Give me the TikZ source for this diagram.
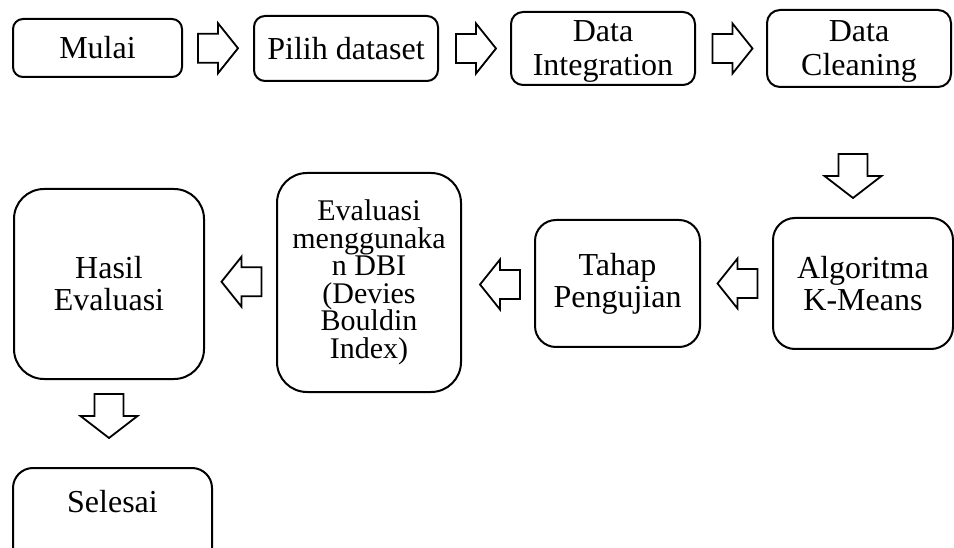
\documentclass[tikz,border=0pt]{standalone}
\usepackage{fontspec}
\setmainfont{Liberation Serif}
\usetikzlibrary{calc}
\begin{document}
\begin{tikzpicture}[x=1pt,y=-1pt,
  box/.style={draw, line width=2pt, rectangle, inner sep=0pt, align=center,
    font=\fontsize{32}{32}\selectfont},
  txt/.style={inner sep=0pt, align=center, font=\fontsize{32}{34}\selectfont},
  blk/.style={draw, line width=1.8pt, fill=white, line join=miter},
  pics/rarr/.style={code={\draw[blk] (-20,-14.5) -- (0,-14.5) -- (0,-25) -- (20,0) -- (0,25) -- (0,14.5) -- (-20,14.5) -- cycle;}},
  pics/larr/.style={code={\draw[blk] (20,-14.5) -- (0,-14.5) -- (0,-25) -- (-20,0) -- (0,25) -- (0,14.5) -- (20,14.5) -- cycle;}},
  pics/darr/.style={code={\draw[blk] (-14.5,-22) -- (14.5,-22) -- (14.5,0) -- (28.5,0) -- (0,22) -- (-28.5,0) -- (-14.5,0) -- cycle;}}
]
\useasboundingbox (0,0) rectangle (954,548);
\clip (0,0) rectangle (954,548);

\node[box, minimum width=169pt, minimum height=58pt, rounded corners=10pt] (mulai) at (97.5,48) {Mulai};
\node[box, minimum width=184pt, minimum height=65pt, rounded corners=11pt] (pilih) at (346,48.5) {Pilih dataset};
\node[box, minimum width=184pt, minimum height=73pt, rounded corners=12pt] (di) at (603,48.5) {};
\node[txt] (dit) at ($(di.center)+(0,3)$) {Data\\Integration};
\node[box, minimum width=184pt, minimum height=77pt, rounded corners=13pt] (dc) at (859,48.5) {};
\node[txt] (dct) at ($(dc.center)+(0,3)$) {Data\\Cleaning};

\node[box, minimum width=180pt, minimum height=131pt, rounded corners=22pt] (algo) at (863,283.5) {Algoritma\\K-Means};
\node[box, minimum width=165pt, minimum height=127pt, rounded corners=21pt] (tahap) at (617.5,283.5) {Tahap\\Pengujian};
\node[box, minimum width=184pt, minimum height=219pt, rounded corners=30pt, font=\fontsize{30}{27.5}\selectfont] (dbi) at (369,282.5) {Evaluasi\\menggunaka\\n DBI\\(Devies\\Bouldin\\Index)};
\node[box, minimum width=190pt, minimum height=190pt, rounded corners=30pt] (hasil) at (109,284) {Hasil\\Evaluasi};

\node[box, minimum width=199pt, minimum height=110pt, rounded corners=20pt] (selesai) at (112.5,523) {};
\node[txt] (selt) at (112.5,502) {Selesai};

\pic at ($(mulai.east)!0.5!(pilih.west)$) {rarr};
\pic at ($(pilih.east)!0.5!(di.west)+(1.5,0)$) {rarr};
\pic at ($(di.east)!0.5!(dc.west)+(1.5,0)$) {rarr};
\pic at ($(dc.south)+(-6,88)$) {darr};
\pic at ($(algo.west)!0.5!(tahap.east)+(1,0)$) {larr};
\pic at ($(tahap.west)!0.5!(dbi.east)+(2,1.5)$) {larr};
\pic at ($(dbi.west)!0.5!(hasil.east)+(1,-1.5)$) {larr};
\pic at ($(hasil.south)+(0,36)$) {darr};
\end{tikzpicture}
\end{document}
